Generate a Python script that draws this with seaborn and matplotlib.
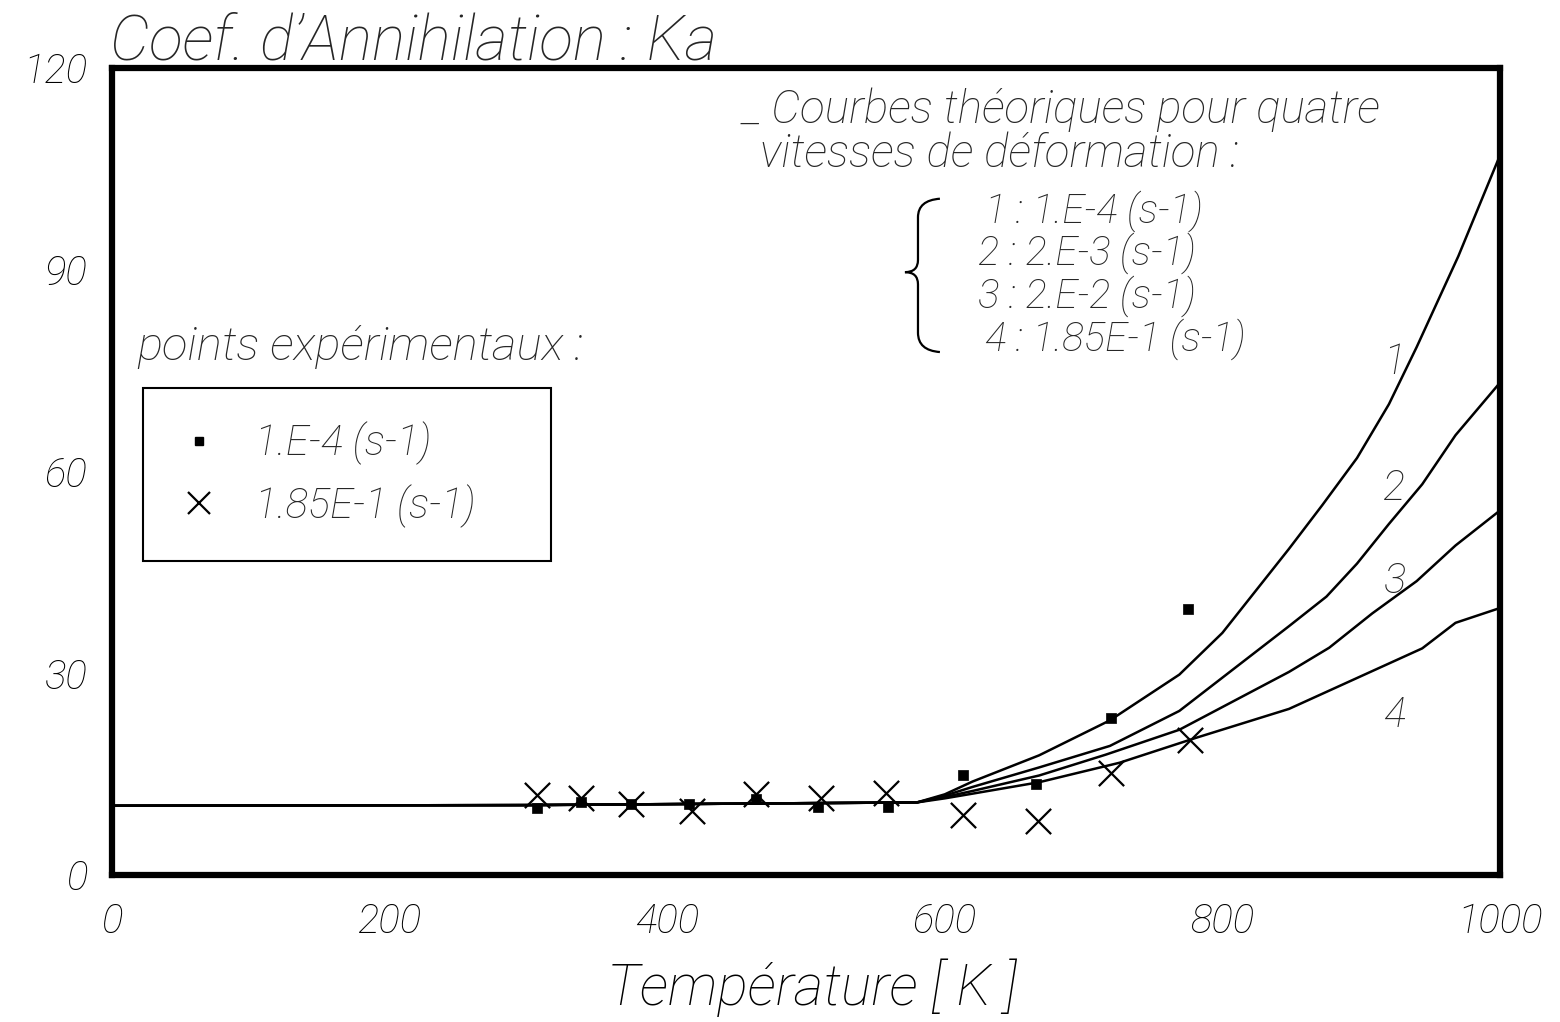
import matplotlib
matplotlib.use("Agg")
import matplotlib.pyplot as plt
from matplotlib.lines import Line2D
from matplotlib.path import Path
from matplotlib.patches import PathPatch
import pandas as pd
import seaborn as sns

# ---------------- data ----------------
curve_ids = ["1", "2", "3", "4"]
strain_rates = ["1.E-4", "2.E-3", "2.E-2", "1.85E-1"]

T1 = [0, 300, 580, 600, 620, 668, 719, 769, 800, 848, 872, 897, 920, 940, 970, 1000]
K1 = [10.3, 10.4, 10.8, 12.0, 13.9, 17.8, 23.0, 29.8, 36.0, 48.5, 55.0, 62.0, 70.0, 78.5, 92.0, 107.0]

T2 = [0, 300, 580, 600, 620, 668, 719, 769, 848, 875, 897, 920, 944, 968, 1000]
K2 = [10.3, 10.4, 10.8, 11.8, 13.1, 16.0, 19.2, 24.4, 37.0, 41.4, 46.3, 52.2, 58.1, 65.4, 73.2]

T3 = [0, 300, 580, 600, 620, 668, 716, 769, 848, 877, 908, 940, 968, 1000]
K3 = [10.3, 10.4, 10.8, 11.6, 12.5, 14.8, 17.9, 21.6, 30.2, 33.8, 38.9, 43.7, 49.0, 54.2]

T4 = [0, 300, 580, 600, 620, 668, 726, 781, 848, 944, 968, 1000]
K4 = [10.3, 10.4, 10.8, 11.4, 12.1, 13.8, 16.7, 20.4, 24.7, 33.7, 37.5, 39.7]

# experimental points, strain rate 1.E-4 (small squares)
sq_T = [306, 338, 374, 416, 464, 509, 559, 613, 666, 720, 775]
sq_Ka = [9.9, 10.8, 10.5, 10.5, 11.3, 10.1, 10.1, 14.9, 13.5, 23.4, 39.6]

# experimental points, strain rate 1.85E-1 (crosses)
x_T = [306, 338, 374, 418, 464, 511, 558, 613, 667, 720, 777]
x_Ka = [11.9, 11.5, 10.6, 9.5, 12.1, 11.5, 12.2, 8.9, 8.1, 15.1, 20.1]

# curve number labels (data coords)
lab_T = [916, 916, 916, 916]
lab_Ka = [76.2, 57.4, 43.7, 23.7]

x_ticks = [0, 200, 400, 600, 800, 1000]
y_ticks = [0, 30, 60, 90, 120]

# ---------------- style ----------------
sns.set_theme(style="white")
plt.rcParams["font.family"] = ["Roboto", "DejaVu Sans"]
plt.rcParams["font.style"] = "italic"
plt.rcParams["font.weight"] = "light"
plt.rcParams["axes.labelweight"] = "light"

fig = plt.figure(figsize=(15.6, 10.22), dpi=100)
ax = fig.add_axes([0.0718, 0.1438, 0.8897, 0.7897])

curves = pd.concat(
    [pd.DataFrame({"T": t, "Ka": k, "courbe": c})
     for t, k, c in zip([T1, T2, T3, T4], [K1, K2, K3, K4], curve_ids)],
    ignore_index=True,
)
sns.lineplot(data=curves, x="T", y="Ka", hue="courbe", palette=["black"] * 4,
             estimator=None, sort=False, legend=False, linewidth=1.8, ax=ax)

sns.scatterplot(x=sq_T, y=sq_Ka, marker="s", s=45, color="black",
                edgecolor="black", linewidth=0.5, ax=ax, zorder=3)
sns.scatterplot(x=x_T, y=x_Ka, marker="x", s=330, color="black",
                linewidth=1.6, ax=ax, zorder=3)

for t, k, c in zip(lab_T, lab_Ka, curve_ids):
    ax.text(t, k, c, fontsize=30, ha="left", va="center")

ax.set_xlim(0, 1000)
ax.set_ylim(0, 120)
ax.set_xticks(x_ticks)
ax.set_yticks(y_ticks)
ax.set_xticklabels([str(v) for v in x_ticks])
ax.set_yticklabels([str(v) for v in y_ticks])
ax.tick_params(axis="both", direction="in", length=11, width=1.6,
               colors="black", labelsize=29)
ax.tick_params(axis="x", pad=20)
ax.tick_params(axis="y", pad=18)
for s in ax.spines.values():
    s.set_linewidth(4.5)
    s.set_color("black")
ax.grid(False)

ax.set_xlabel("Température [ K ]", fontsize=41, fontweight="light", color="black")
ax.xaxis.set_label_coords(0.504, -0.104)
ax.set_ylabel("")

fig.text(110 / 1560, 1 - 60 / 1022, "Coef. d’Annihilation : Ka",
         fontsize=45, ha="left", va="baseline")

# annotation texts
ax.text(0.454, 0.948, "_ Courbes théoriques pour quatre", transform=ax.transAxes,
        fontsize=33, ha="left", va="center")
ax.text(0.467, 0.893, "vitesses de déformation :", transform=ax.transAxes,
        fontsize=33, ha="left", va="center")
rate_y = [0.823, 0.771, 0.717, 0.664]
rate_x = [0.629, 0.624, 0.624, 0.629]
for c, r, xx, yy in zip(curve_ids, strain_rates, rate_x, rate_y):
    ax.text(xx, yy, f"{c} : {r} (s-1)", transform=ax.transAxes,
            fontsize=29, ha="left", va="center")

# brace
bx, bm, bt = 0.5965, 0.5807, 0.5713
verts = [(bx, 0.838), (bm, 0.836), (bm, 0.815), (bm, 0.762),
         (bm, 0.747), (bt, 0.747), (bm, 0.747), (bm, 0.732),
         (bm, 0.672), (bm, 0.650), (bx, 0.648)]
codes = [Path.MOVETO, Path.CURVE3, Path.CURVE3, Path.LINETO,
         Path.CURVE3, Path.CURVE3, Path.CURVE3, Path.CURVE3,
         Path.LINETO, Path.CURVE3, Path.CURVE3]
ax.add_patch(PathPatch(Path(verts, codes), transform=ax.transAxes,
                       fill=False, edgecolor="black", linewidth=1.6))

ax.text(0.018, 0.654, "points expérimentaux :", transform=ax.transAxes,
        fontsize=34, ha="left", va="center")

handles = [
    Line2D([], [], marker="s", ls="none", color="black", markersize=5.5),
    Line2D([], [], marker="x", ls="none", color="black", markersize=16, mew=1.6),
]
leg = ax.legend(handles, ["1.E-4 (s-1)", "1.85E-1 (s-1)"],
                loc="upper left", bbox_to_anchor=(0.022, 0.399, 0.294, 0.204),
                mode="expand", borderaxespad=0, fontsize=30, borderpad=0.8,
                handlelength=1.1, handletextpad=0.8, labelspacing=0.45,
                frameon=True, fancybox=False, framealpha=1, edgecolor="black")
leg.get_frame().set_linewidth(1.5)

fig.savefig("out.png", dpi=100)
